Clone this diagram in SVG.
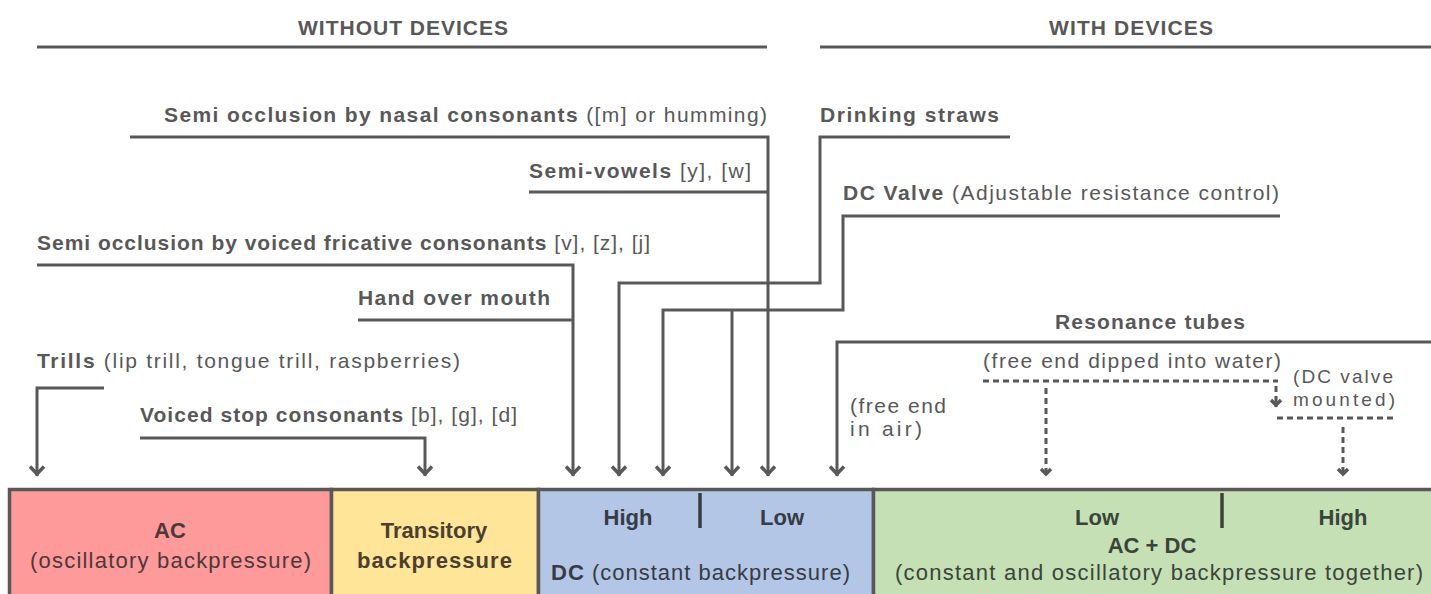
<svg xmlns="http://www.w3.org/2000/svg" width="1431" height="594" viewBox="0 0 1431 594">
<defs>
<style>
text{font-family:"Liberation Sans",Arial,sans-serif;fill:#585858;font-size:21px}
.b{font-weight:bold}
.box{font-size:22px}
.sm{font-size:19px}
.ln{fill:none;stroke:#585858;stroke-width:3}
.dot{fill:none;stroke:#585858;stroke-width:3;stroke-dasharray:6 4}
.ah{fill:none;stroke:#585858;stroke-width:3.4;stroke-linejoin:miter}
</style>
<marker id="arr" markerUnits="userSpaceOnUse" viewBox="-12 -9 14 18" markerWidth="14" markerHeight="18" refX="0" refY="0" orient="auto">
<path d="M-9.5,-7 L-2,0 L-9.5,7" class="ah"/>
</marker>
<marker id="sarr" markerUnits="userSpaceOnUse" viewBox="-10 -7 12 14" markerWidth="12" markerHeight="14" refX="0" refY="0" orient="auto">
<path d="M-7,-5 L-2,0 L-7,5" class="ah" stroke-width="3"/>
</marker>
</defs>

<g id="headers">
<text class="b" x="298" y="35" textLength="210">WITHOUT DEVICES</text>
<text class="b" x="1049" y="35" textLength="164">WITH DEVICES</text>
<path class="ln" d="M37,47 H767 M820,47 H1431"/>
</g>

<g id="labels">
<text x="164" y="122" textLength="603"><tspan class="b">Semi occlusion by nasal consonants</tspan> ([m] or humming)</text>
<text class="b" x="820" y="122" textLength="179">Drinking straws</text>
<text x="529" y="178" textLength="222"><tspan class="b">Semi-vowels</tspan> [y], [w]</text>
<text x="843" y="200" textLength="436"><tspan class="b">DC Valve</tspan> (Adjustable resistance control)</text>
<text x="37" y="250" textLength="613"><tspan class="b">Semi occlusion by voiced fricative consonants</tspan> [v], [z], [j]</text>
<text class="b" x="358" y="305" textLength="192">Hand over mouth</text>
<text class="b" x="1055" y="329" textLength="190">Resonance tubes</text>
<text x="37" y="368" textLength="423"><tspan class="b">Trills</tspan> (lip trill, tongue trill, raspberries)</text>
<text x="983" y="368" textLength="298">(free end dipped into water)</text>
<text class="sm" x="1293" y="383" textLength="100">(DC valve</text>
<text class="sm" x="1293" y="406" textLength="102">mounted)</text>
<text x="850" y="413" textLength="96">(free end</text>
<text x="850" y="436" textLength="72">in air)</text>
<text x="140" y="422" textLength="377"><tspan class="b">Voiced stop consonants</tspan> [b], [g], [d]</text>
</g>

<g id="connectors">
<path class="ln" d="M130,137 H768 V476" marker-end="url(#arr)"/>
<path class="ln" d="M529,192 H768"/>
<path class="ln" d="M37,265 H573 V476" marker-end="url(#arr)"/>
<path class="ln" d="M358,320 H573"/>
<path class="ln" d="M104,388 H37 V476" marker-end="url(#arr)"/>
<path class="ln" d="M140,438 H425 V476" marker-end="url(#arr)"/>
<path class="ln" d="M1010,137 H820 V283 H619 V476" marker-end="url(#arr)"/>
<path class="ln" d="M1280,216 H843 V310 H663 V476" marker-end="url(#arr)"/>
<path class="ln" d="M732,310 V476" marker-end="url(#arr)"/>
<path class="ln" d="M1431,342 H837 V476" marker-end="url(#arr)"/>
<path class="dot" d="M983,381 H1278"/>
<path class="dot" d="M1046,388 V476" marker-end="url(#sarr)"/>
<path class="dot" d="M1276,386 V407" marker-end="url(#sarr)"/>
<path class="dot" d="M1277,418 H1395"/>
<path class="dot" d="M1343,427 V476" marker-end="url(#sarr)"/>
</g>

<g id="box-ac">
<rect x="9.5" y="489.5" width="322" height="110" fill="#fe9a9a" stroke="#585858" stroke-width="3.5"/>
<text class="b box" x="170" y="538" text-anchor="middle" style="fill:#4d3838">AC</text>
<text class="box" x="30" y="568" textLength="281" style="fill:#4d3838">(oscillatory backpressure)</text>
</g>
<g id="box-transitory">
<rect x="331.5" y="489.5" width="207" height="110" fill="#ffe597" stroke="#585858" stroke-width="3.5"/>
<text class="b box" x="434" y="538" text-anchor="middle" style="fill:#4a4030">Transitory</text>
<text class="b box" x="357" y="568" textLength="155" style="fill:#4a4030">backpressure</text>
</g>
<g id="box-dc">
<rect x="538.5" y="489.5" width="335" height="110" fill="#b3c6e6" stroke="#585858" stroke-width="3.5"/>
<text class="b box" x="628" y="525" text-anchor="middle" style="fill:#363b45">High</text>
<path d="M700,493 V528" stroke="#363b45" stroke-width="3.5"/>
<text class="b box" x="782" y="525" text-anchor="middle" style="fill:#363b45">Low</text>
<text class="box" x="551" y="580" textLength="299" style="fill:#363b45"><tspan class="b">DC</tspan> (constant backpressure)</text>
</g>
<g id="box-acdc">
<rect x="873.5" y="489.5" width="560" height="110" fill="#c5e0b4" stroke="#585858" stroke-width="3.5"/>
<text class="b box" x="1097" y="525" text-anchor="middle" style="fill:#3a453a">Low</text>
<path d="M1222,493 V528" stroke="#3a453a" stroke-width="3.5"/>
<text class="b box" x="1343" y="525" text-anchor="middle" style="fill:#3a453a">High</text>
<text class="b box" x="1152" y="553" text-anchor="middle" style="fill:#3a453a">AC + DC</text>
<text class="box" x="895" y="580" textLength="528" style="fill:#3a453a">(constant and oscillatory backpressure together)</text>
</g>
</svg>
